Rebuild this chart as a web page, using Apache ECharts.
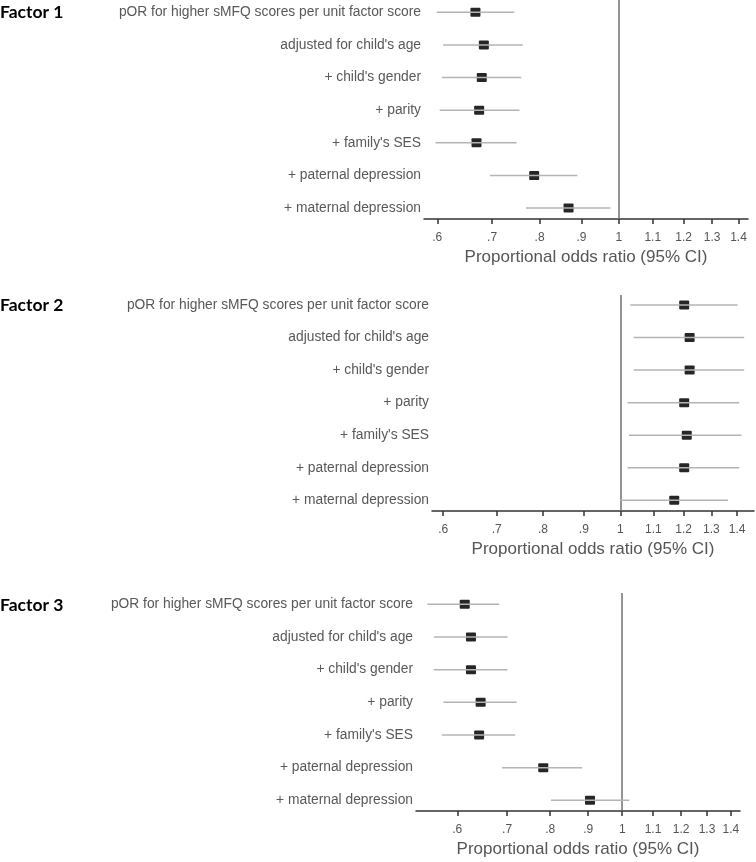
<!DOCTYPE html>
<html>
<head>
<meta charset="utf-8">
<script src="https://cdn.jsdelivr.net/npm/echarts@6/dist/echarts.min.js"></script>
<style>
  html, body { margin: 0; padding: 0; background: #fff; }
  #chart { width: 756px; height: 862px; }
</style>
</head>
<body>
<div id="chart"></div>
<script>
  // rows, top to bottom
  const rowLabels = [
    'pOR for higher sMFQ scores per unit factor score',
    "adjusted for child's age",
    "+ child's gender",
    '+ parity',
    "+ family's SES",
    '+ paternal depression',
    '+ maternal depression'
  ];
  const factorNames = ['Factor 1', 'Factor 2', 'Factor 3'];
  const xTicks = [0.6, 0.7, 0.8, 0.9, 1, 1.1, 1.2, 1.3, 1.4];
  const axisTitle = 'Proportional odds ratio (95% CI)';

  // Factor 1
  const f1Or = [0.668, 0.684, 0.680, 0.675, 0.670, 0.788, 0.868];
  const f1Lo = [0.599, 0.610, 0.608, 0.604, 0.597, 0.696, 0.770];
  const f1Hi = [0.745, 0.763, 0.760, 0.756, 0.750, 0.890, 0.977];
  // Factor 2
  const f2Or = [1.202, 1.221, 1.221, 1.202, 1.211, 1.202, 1.168];
  const f2Lo = [1.029, 1.039, 1.039, 1.021, 1.025, 1.021, 1.000];
  const f2Hi = [1.402, 1.429, 1.429, 1.409, 1.418, 1.409, 1.364];
  // Factor 3
  const f3Or = [0.614, 0.626, 0.626, 0.645, 0.642, 0.783, 0.905];
  const f3Lo = [0.547, 0.558, 0.558, 0.575, 0.572, 0.689, 0.802];
  const f3Hi = [0.683, 0.701, 0.701, 0.721, 0.718, 0.883, 1.022];

  const seriesData = [
    [f1Or, f1Lo, f1Hi],
    [f2Or, f2Lo, f2Hi],
    [f3Or, f3Lo, f3Hi]
  ];

  // layout of the three panels (pixels / axis ranges)
  const layout = [
    { top: 0, height: 219, left: 424, right: 8, xMin: 0.578, xMax: 1.438, yMin: -0.377, yMax: 6.336, titleTop: 3 },
    { top: 295, height: 216, left: 432, right: 2, xMin: 0.581, xMax: 1.47, yMin: -0.308, yMax: 6.329, titleTop: 296 },
    { top: 593, height: 218, left: 416, right: 16, xMin: 0.528, xMax: 1.44, yMin: -0.346, yMax: 6.327, titleTop: 596 }
  ];

  const tickLabel = v => (v < 1 ? String(v).replace(/^0/, '') : String(v));

  const renderCI = (params, api) => {
    const row = api.value(0);
    const a = api.coord([api.value(1), row]);
    const m = api.coord([api.value(2), row]);
    const b = api.coord([api.value(3), row]);
    return {
      type: 'group',
      children: [
        {
          type: 'rect',
          shape: { x: m[0] - 5, y: m[1] - 4.5, width: 10, height: 9, r: 1 },
          style: { fill: '#262626' }
        },
        {
          type: 'line',
          shape: { x1: a[0], y1: a[1], x2: b[0], y2: b[1] },
          style: { stroke: '#b4b4b4', lineWidth: 1.5 }
        }
      ]
    };
  };

  const chart = echarts.init(document.getElementById('chart'));

  const option = {
    animation: false,
    backgroundColor: '#fff',
    title: layout.map((l, i) => ({
      text: factorNames[i],
      left: 0,
      top: l.titleTop,
      padding: 0,
      textStyle: { fontFamily: 'Lato', fontWeight: 'bold', fontSize: 17.5, color: '#000' }
    })),
    grid: layout.map(l => ({ left: l.left, right: l.right, top: l.top, height: l.height, containLabel: false })),
    xAxis: layout.map((l, i) => ({
      type: 'log',
      gridIndex: i,
      min: l.xMin,
      max: l.xMax,
      name: axisTitle,
      nameLocation: 'middle',
      nameGap: 30,
      nameTextStyle: { fontFamily: 'Liberation Sans', fontSize: 17, color: '#555' },
      axisLine: { onZero: false, lineStyle: { color: '#333', width: 1.5 } },
      axisTick: { customValues: xTicks, length: 5, lineStyle: { color: '#333', width: 1.5 } },
      axisLabel: {
        customValues: xTicks,
        margin: 13,
        formatter: tickLabel,
        fontFamily: 'Liberation Sans',
        fontSize: 12,
        color: '#555'
      },
      splitLine: { show: false }
    })),
    yAxis: layout.map((l, i) => ({
      type: 'value',
      gridIndex: i,
      inverse: true,
      min: l.yMin,
      max: l.yMax,
      axisLine: { show: false, onZero: false },
      axisTick: { show: false },
      splitLine: { show: false },
      axisLabel: {
        customValues: rowLabels.map((_, k) => k),
        formatter: v => rowLabels[v] || '',
        margin: 3,
        fontFamily: 'Liberation Sans',
        fontSize: 13.8,
        color: '#585858'
      }
    })),
    series: seriesData.map(([or, lo, hi], i) => ({
      type: 'custom',
      xAxisIndex: i,
      yAxisIndex: i,
      renderItem: renderCI,
      encode: { x: [1, 2, 3], y: 0 },
      data: rowLabels.map((_, k) => [k, lo[k], or[k], hi[k]]),
      z: 3,
      markLine: {
        silent: true,
        symbol: 'none',
        label: { show: false },
        lineStyle: { type: 'solid', color: '#707070', width: 1.5 },
        data: [{ xAxis: 1 }],
        z: 2
      }
    }))
  };

  chart.setOption(option);
</script>
</body>
</html>
